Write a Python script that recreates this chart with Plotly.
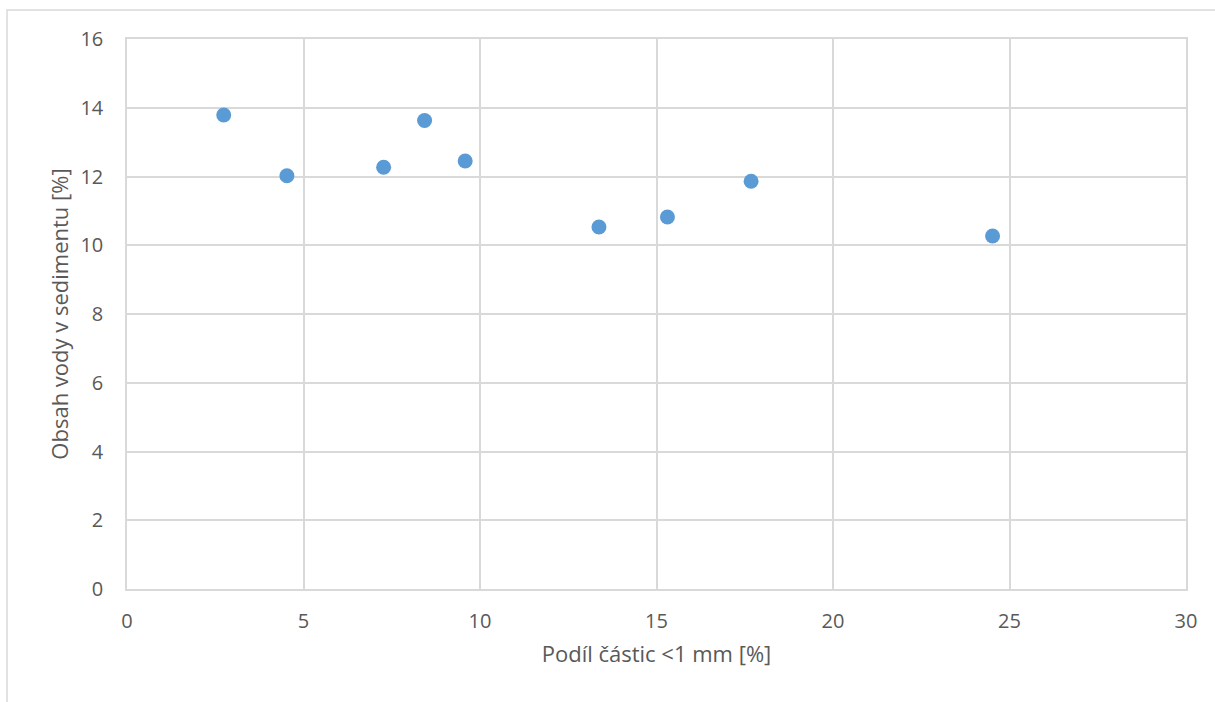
import plotly.graph_objects as go

podil = [2.74, 4.53, 7.27, 8.43, 9.58, 13.37, 15.31, 17.68, 24.52]
obsah = [13.79, 12.02, 12.27, 13.63, 12.45, 10.53, 10.82, 11.86, 10.27]

x_title = "Podíl částic <1 mm [%]"
y_title = "Obsah vody v sedimentu [%]"

fig = go.Figure(go.Scatter(
    x=podil, y=obsah, mode="markers",
    marker=dict(size=15, color="#5B9BD5", line=dict(width=0)),
    showlegend=False,
))

font_fam = "Open Sans, Noto Sans, sans-serif"
grid = "#D9D9D9"

fig.update_layout(
    width=1215, height=702,
    margin=dict(l=127, r=29, t=39, b=113),
    paper_bgcolor="white", plot_bgcolor="white",
    font=dict(family=font_fam, color="#595959", size=20),
    shapes=[dict(type="rect", xref="paper", yref="paper",
                 x0=-0.1133, x1=1.2, y0=-0.4, y1=1.0527,
                 line=dict(color="#D9D9D9", width=1.5), layer="below")],
)
fig.update_xaxes(
    range=[0, 30], dtick=5, tick0=0,
    showgrid=True, gridcolor=grid, gridwidth=1.5,
    zeroline=False, showline=True, linecolor=grid, linewidth=1.5, mirror=True,
    ticks="", ticklabelstandoff=13,
    title=dict(text=x_title, font=dict(size=22, color="#595959"), standoff=14),
)
fig.update_yaxes(
    range=[0, 16], dtick=2, tick0=0,
    showgrid=True, gridcolor=grid, gridwidth=1.5,
    zeroline=False, showline=True, linecolor=grid, linewidth=1.5, mirror=True,
    ticks="", ticklabelstandoff=18,
    title=dict(text=y_title, font=dict(size=22, color="#595959"), standoff=6),
)

fig.write_html("out.html")
